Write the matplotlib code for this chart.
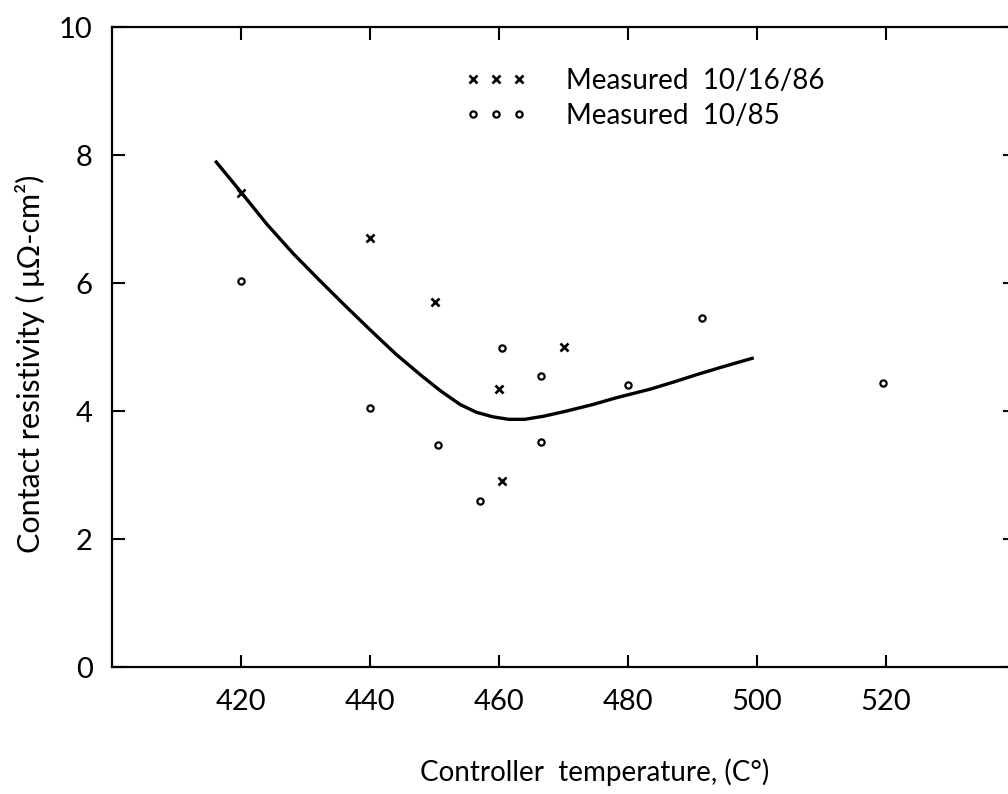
import numpy as np
import matplotlib
matplotlib.use('Agg')
import matplotlib.pyplot as plt

plt.rcParams['font.family'] = ['Lato', 'DejaVu Sans']

# measured 10/16/86 (crosses)
x86 = [420, 440, 450, 460, 460.5, 470]
y86 = [7.4, 6.7, 5.7, 4.35, 2.9, 5.0]

# measured 10/85 (circles)
x85 = [420, 440, 450.5, 457, 460.5, 466.5, 466.5, 480, 491.5, 519.5]
y85 = [6.03, 4.04, 3.47, 2.6, 4.98, 4.54, 3.51, 4.4, 5.45, 4.43]

# fitted curve
xc = [416, 420, 424, 428, 432, 436, 440, 444, 448, 451, 454, 456.5, 459,
      461.5, 464, 467, 470.5, 474.5, 478.3, 483.4, 487, 490.7, 495, 499.5]
yc = [7.91, 7.42, 6.92, 6.47, 6.06, 5.66, 5.27, 4.89, 4.55, 4.31, 4.10,
      3.98, 3.91, 3.87, 3.87, 3.92, 4.00, 4.10, 4.21, 4.34, 4.45, 4.57,
      4.70, 4.83]

fig = plt.figure(figsize=(10.08, 7.94), dpi=100)
ax = fig.add_axes([112 / 1008, 127 / 794, 903 / 1008, 640 / 794])

ax.plot(xc, yc, color='black', lw=2.4, solid_capstyle='butt',
        solid_joinstyle='round')
ax.plot(x86, y86, ls='none', marker='x', color='black', ms=6, mew=1.9,
        label='Measured  10/16/86')
ax.plot(x85, y85, ls='none', marker='o', mfc='none', mec='black', ms=4.5,
        mew=1.6, label='Measured  10/85')

ax.set_xlim(400, 540)
ax.set_ylim(0, 10)
ax.set_xticks([420, 440, 460, 480, 500, 520])
ax.set_yticks([0, 2, 4, 6, 8, 10])
ax.tick_params(direction='in', length=9, width=1.5, labelsize=21,
               top=True, right=True)
ax.tick_params(axis='x', pad=16)
ax.tick_params(axis='y', pad=14)
for s in ax.spines.values():
    s.set_linewidth(1.6)

ax.legend(loc='upper left', bbox_to_anchor=(465 / 1008, 1 - 68 / 794),
          bbox_transform=fig.transFigure, frameon=False,
          numpoints=3, handlelength=2.23, handletextpad=1.4,
          labelspacing=0.32, fontsize=20, borderaxespad=0, borderpad=0)

fig.text(595 / 1008, 1 - 772 / 794, 'Controller  temperature, (C°)',
         ha='center', va='center', fontsize=20)
fig.text(30 / 1008, 1 - 364 / 794, 'Contact resistivity ( μΩ-cm²)',
         ha='center', va='center', rotation=90, fontsize=22)

fig.savefig('out.png', dpi=100)
